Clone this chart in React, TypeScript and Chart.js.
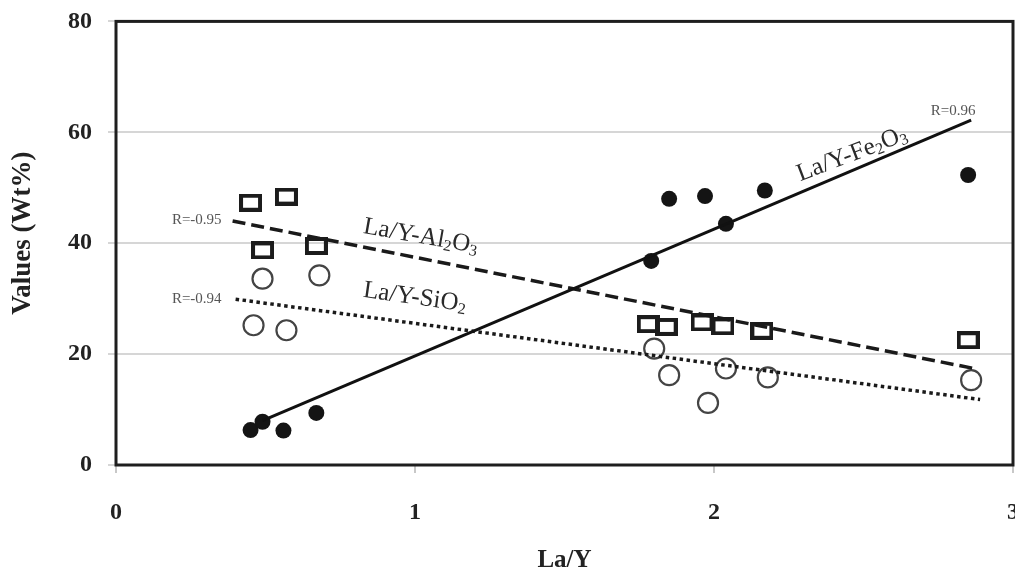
import React, { useEffect, useRef } from "react";
import { Chart, registerables } from "chart.js";

Chart.register(...registerables);

// ---- data ----
const feX = [0.45, 0.49, 0.56, 0.67, 1.79, 1.85, 1.97, 2.04, 2.17, 2.85];
const feY = [6.3, 7.8, 6.2, 9.4, 36.8, 48.0, 48.5, 43.5, 49.5, 52.3];
const alX = [0.45, 0.57, 0.49, 0.67, 1.78, 1.84, 1.96, 2.03, 2.16, 2.85];
const alY = [47.3, 48.4, 38.7, 39.5, 25.4, 24.9, 25.7, 25.0, 24.2, 22.5];
const siX = [0.49, 0.68, 0.46, 0.57, 1.8, 1.85, 1.98, 2.04, 2.18, 2.86];
const siY = [33.6, 34.2, 25.2, 24.3, 21.0, 16.2, 11.2, 17.4, 15.8, 15.3];

const feTrendX = [0.49, 2.86];
const feTrendY = [8.0, 62.2];
const alTrendX = [0.39, 2.87];
const alTrendY = [44.0, 17.4];
const siTrendX = [0.4, 2.89];
const siTrendY = [29.9, 11.8];

const xTicks = [0, 1, 2, 3];
const yTicks = [0, 20, 40, 60, 80];
const xTitle = "La/Y";
const yTitle = "Values (Wt%)";

const toPts = (xs: number[], ys: number[]) => xs.map((x, i) => ({ x, y: ys[i] }));

const SERIF = "'Liberation Serif', 'Times New Roman', serif";
const CANVAS_TOP = -9;

type Part = [string, boolean];

function drawRich(
  ctx: CanvasRenderingContext2D,
  x: number,
  y: number,
  angleDeg: number,
  parts: Part[],
  size: number,
  color: string
) {
  ctx.save();
  ctx.translate(x, y);
  ctx.rotate((angleDeg * Math.PI) / 180);
  ctx.fillStyle = color;
  ctx.textBaseline = "alphabetic";
  ctx.textAlign = "left";
  const subSize = Math.round(size * 0.62);
  let total = 0;
  for (const [t, sub] of parts) {
    ctx.font = `${sub ? subSize : size}px ${SERIF}`;
    total += ctx.measureText(t).width;
  }
  let cx = -total / 2;
  for (const [t, sub] of parts) {
    ctx.font = `${sub ? subSize : size}px ${SERIF}`;
    ctx.fillText(t, cx, sub ? size * 0.12 + size * 0.33 : size * 0.33);
    cx += ctx.measureText(t).width;
  }
  ctx.restore();
}

function makeRectMarker() {
  const c = document.createElement("canvas");
  c.width = 23;
  c.height = 18;
  const g = c.getContext("2d")!;
  g.strokeStyle = "#1c1c1c";
  g.lineWidth = 4;
  g.strokeRect(2, 2, 19, 14);
  return c;
}

export default function App() {
  const ref = useRef<HTMLCanvasElement>(null);

  useEffect(() => {
    if (!ref.current) return;

    const overlay = {
      id: "overlay",
      beforeDatasetsDraw(chart: any) {
        const { ctx, chartArea: a } = chart;
        ctx.save();
        ctx.strokeStyle = "#1e1e1e";
        ctx.lineWidth = 3;
        ctx.strokeRect(a.left, a.top, a.right - a.left, a.bottom - a.top);
        ctx.restore();
      },
      afterDraw(chart: any) {
        const { ctx, chartArea: a } = chart;
        const xs = chart.scales.x;
        const ys = chart.scales.y;
        // axis titles
        ctx.save();
        ctx.fillStyle = "#222";
        ctx.font = `bold 25px ${SERIF}`;
        ctx.textAlign = "center";
        ctx.textBaseline = "middle";
        ctx.fillText(xTitle, (a.left + a.right) / 2, 561 - CANVAS_TOP);
        ctx.font = `bold 27px ${SERIF}`;
        ctx.translate(23, (a.top + a.bottom) / 2 - 10);
        ctx.rotate(-Math.PI / 2);
        ctx.fillText(yTitle, 0, 0);
        ctx.restore();

        // regression labels
        const px = (v: number) => xs.getPixelForValue(v);
        const py = (v: number) => ys.getPixelForValue(v);
        ctx.save();
        ctx.fillStyle = "#555";
        ctx.font = `15px ${SERIF}`;
        ctx.textAlign = "center";
        ctx.textBaseline = "middle";
        ctx.fillText("R=0.96", px(2.8), py(63.8));
        ctx.fillText("R=-0.95", px(0.27), py(44.1));
        ctx.fillText("R=-0.94", px(0.27), py(29.9));
        ctx.restore();

        drawRich(ctx, px(2.46), py(56.3), -21, [["La/Y-Fe", false], ["2", true], ["O", false], ["3", true]], 25, "#2a2a2a");
        drawRich(ctx, px(1.02), py(41.5), 10, [["La/Y-Al", false], ["2", true], ["O", false], ["3", true]], 25, "#2a2a2a");
        drawRich(ctx, px(1.0), py(30.5), 8, [["La/Y-SiO", false], ["2", true]], 25, "#2a2a2a");
      },
    };

    const chart = new Chart(ref.current, {
      type: "scatter",
      data: {
        datasets: [
          {
            data: toPts(feTrendX, feTrendY),
            showLine: true,
            borderColor: "#111",
            borderWidth: 3,
            pointRadius: 0,
          },
          {
            data: toPts(alTrendX, alTrendY),
            showLine: true,
            borderColor: "#1a1a1a",
            borderWidth: 3.5,
            borderDash: [13, 6],
            pointRadius: 0,
          },
          {
            data: toPts(siTrendX, siTrendY),
            showLine: true,
            borderColor: "#1a1a1a",
            borderWidth: 3.5,
            borderDash: [3.5, 3.5],
            pointRadius: 0,
          },
          {
            data: toPts(feX, feY),
            pointStyle: "circle",
            pointRadius: 8,
            backgroundColor: "#141414",
            borderColor: "#141414",
            borderWidth: 0,
          },
          {
            data: toPts(alX, alY),
            pointStyle: makeRectMarker() as any,
            pointRadius: 10,
            backgroundColor: "transparent",
            borderColor: "#1c1c1c",
          },
          {
            data: toPts(siX, siY),
            pointStyle: "circle",
            pointRadius: 10,
            backgroundColor: "rgba(0,0,0,0)",
            borderColor: "#444",
            borderWidth: 2.2,
          },
        ],
      },
      options: {
        animation: false,
        responsive: false,
        events: [],
        layout: { padding: { left: 0, top: 12, right: 12, bottom: 0 } },
        plugins: {
          legend: { display: false },
          tooltip: { enabled: false },
        },
        scales: {
          x: {
            type: "linear",
            min: 0,
            max: 3,
            afterBuildTicks: (s: any) => {
              s.ticks = xTicks.map((v) => ({ value: v }));
            },
            afterFit: (s: any) => {
              s.height = 109;
            },
            border: { display: false },
            grid: {
              drawOnChartArea: false,
              drawTicks: true,
              tickLength: 8,
              color: "#c8c8c8",
              lineWidth: 2,
            },
            ticks: {
              padding: 25,
              color: "#222",
              font: { family: SERIF, size: 24, weight: "bold" },
              maxRotation: 0,
            },
          },
          y: {
            type: "linear",
            min: 0,
            max: 80,
            afterBuildTicks: (s: any) => {
              s.ticks = yTicks.map((v) => ({ value: v }));
            },
            afterFit: (s: any) => {
              s.width = 116;
            },
            border: { display: false },
            grid: {
              drawOnChartArea: true,
              drawTicks: true,
              tickLength: 8,
              color: "#d6d6d6",
              lineWidth: 2,
            },
            ticks: {
              padding: 16,
              color: "#222",
              font: { family: SERIF, size: 24, weight: "bold" },
            },
          },
        },
      },
      plugins: [overlay],
    } as any);

    return () => chart.destroy();
  }, []);

  return (
    <div
      style={{
        position: "absolute",
        left: 0,
        top: 0,
        width: 1015,
        height: 574,
        overflow: "hidden",
        background: "#fff",
      }}
    >
      <canvas
        ref={ref}
        width={1044}
        height={583}
        style={{ display: "block", position: "absolute", left: 0, top: CANVAS_TOP }}
      />
    </div>
  );
}
